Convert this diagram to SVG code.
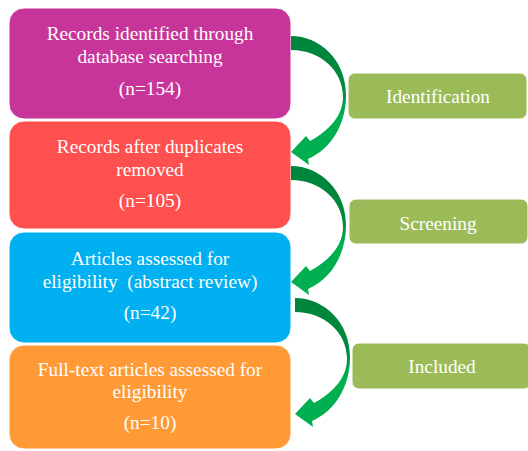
<svg xmlns="http://www.w3.org/2000/svg" width="528" height="451" viewBox="0 0 528 451">
<defs>
<style>
.box{stroke:#ffffff;stroke-width:1}
.t{font-family:'Liberation Serif','Times New Roman',serif;font-size:19.3px;fill:#ffffff;text-anchor:middle}
.lab{fill:#9BBB59;stroke:#ffffff;stroke-width:1}
</style>
<linearGradient id="ag" x1="0" y1="0" x2="0" y2="1">
<stop offset="0" stop-color="#00843C"/>
<stop offset="0.42" stop-color="#008A3E"/>
<stop offset="0.62" stop-color="#00B050"/>
<stop offset="1" stop-color="#00B050"/>
</linearGradient>
<path id="arrow" d="M0 0 C29 0 55 24 55 59 C55 89 40 113 17 123 L18 129 L0 116 L15 100 L19 105 C39 94 52 79 52 61 C52 34 29 14 0 14 Z" fill="url(#ag)"/>
</defs>
<g id="node-identified">
<rect class="box" x="9" y="8" width="282" height="111" rx="15" fill="#C8359A"/>
<text class="t" x="150" y="40">Records identified through</text>
<text class="t" x="150" y="63">database searching</text>
<text class="t" x="150" y="95">(n=154)</text>
</g>
<g id="node-duplicates">
<rect class="box" x="9" y="121" width="282" height="108" rx="15" fill="#FF5050"/>
<text class="t" x="150" y="153">Records after duplicates</text>
<text class="t" x="150" y="176">removed</text>
<text class="t" x="150" y="207">(n=105)</text>
</g>
<g id="node-abstract">
<rect class="box" x="9" y="232" width="282" height="111" rx="15" fill="#00B0F0"/>
<text class="t" x="150" y="265">Articles assessed for</text>
<text class="t" x="150" y="288" xml:space="preserve">eligibility  (abstract review)</text>
<text class="t" x="150" y="319">(n=42)</text>
</g>
<g id="node-fulltext">
<rect class="box" x="9" y="345" width="282" height="104" rx="15" fill="#FF9A37"/>
<text class="t" x="150" y="376">Full-text articles assessed for</text>
<text class="t" x="150" y="398">eligibility</text>
<text class="t" x="150" y="429">(n=10)</text>
</g>
<g id="label-identification">
<rect class="lab" x="348" y="73" width="179" height="46" rx="7"/>
<text class="t" x="438" y="103">Identification</text>
</g>
<g id="label-screening">
<rect class="lab" x="349" y="199" width="179" height="45" rx="7"/>
<text class="t" x="438" y="230">Screening</text>
</g>
<g id="label-included">
<rect class="lab" x="352" y="343" width="179" height="46" rx="7"/>
<text class="t" x="442" y="373">Included</text>
</g>
<g id="connectors">
<use href="#arrow" transform="translate(291 36)"/>
<use href="#arrow" transform="translate(291 166)"/>
<use href="#arrow" transform="translate(295 298)"/>
</g>
</svg>
